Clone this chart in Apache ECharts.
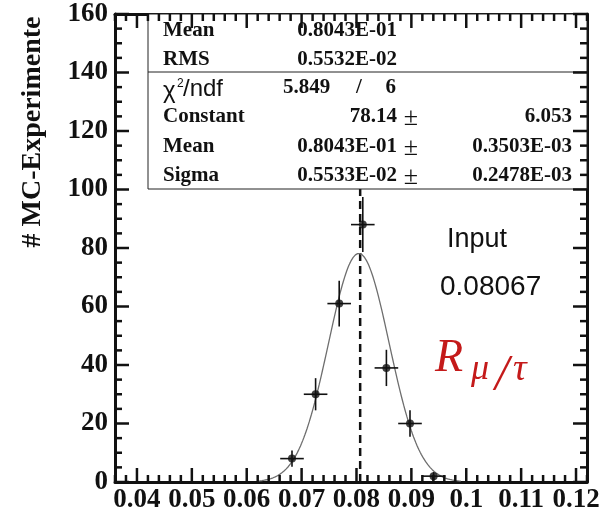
<!DOCTYPE html>
<html>
<head>
<meta charset="utf-8">
<script src="https://cdn.jsdelivr.net/npm/echarts@6/dist/echarts.min.js"></script>
<style>
  html, body { margin: 0; padding: 0; background: #fff; }
  #chart { width: 607px; height: 514px; }
</style>
</head>
<body>
<div id="chart"></div>
<script>
// Histogram of fitted R(mu/tau) values over the MC pseudo-experiments
const binCenters = [0.06825, 0.07255, 0.07685, 0.08115, 0.08545, 0.08975, 0.09405];
const counts     = [8, 30, 61, 88, 39, 20, 2];
const countErrs  = [2.8, 5.5, 7.8, 9.4, 6.2, 4.5, 1.4];
const binHalfWidth = 0.00215;

// Gaussian fit result (also printed in the statistics box)
const fitConstant = 78.14;
const fitMean = 0.08043;
const fitSigma = 0.005533;
const fitFrom = 0.062, fitTo = 0.099;

// Generated input value
const inputValue = 0.08067;

// Axis ranges and tick labels
const xMin = 0.036, xMax = 0.122;
const xTickLabels = ['0.04', '0.05', '0.06', '0.07', '0.08', '0.09', '0.1', '0.11', '0.12'];
const yMin = 0, yMax = 160, yStep = 20;

// Statistics box text
const statRows = [
  ['Mean', '0.8043E-01'],
  ['RMS', '0.5532E-02']
];
const chi2 = '5.849', ndf = '6';
const fitRows = [
  ['Constant', '78.14', '6.053'],
  ['Mean', '0.8043E-01', '0.3503E-03'],
  ['Sigma', '0.5533E-02', '0.2478E-03']
];

// Frame tick positions (ROOT style: ticks inside on all four sides)
// each entry: [x, y, length, side] with side 0 = horizontal axes, 1 = vertical axes
const xMajor = xTickLabels.map(Number);
const frameTicks = [];
for (let i = 0; i <= 43; i++) {
  const v = +(xMin + i * 0.002).toFixed(3);
  const major = xMajor.some(m => Math.abs(m - v) < 1e-6);
  frameTicks.push([v, yMin, major ? 14 : 7, 0]);
}
for (let v = yMin; v <= yMax; v += 5) frameTicks.push([xMin, v, v % yStep === 0 ? 14 : 7, 1]);

const fitCurve = [];
for (let x = fitFrom; x <= fitTo + 1e-9; x += 0.0002) {
  const z = (x - fitMean) / fitSigma;
  fitCurve.push([x, fitConstant * Math.exp(-0.5 * z * z)]);
}

const SERIF = '"Liberation Serif", "DejaVu Serif", serif';
const SANS = '"Liberation Sans", Arial, sans-serif';
const INK = '#111';

function xAxisCfg(position, withLabels) {
  return {
    type: 'value', position: position, min: xMin, max: xMax,
    axisLine: { show: true, onZero: false, lineStyle: { color: INK, width: 3 } },
    axisTick: { show: false },
    axisLabel: withLabels ? {
      show: true, customValues: xMajor, margin: 5,
      fontFamily: 'Liberation Serif', fontWeight: 'bold', fontSize: 27, color: INK
    } : { show: false },
    splitLine: { show: false }
  };
}

function yAxisCfg(position, withLabels) {
  return {
    type: 'value', position: position, min: yMin, max: yMax, interval: yStep,
    axisLine: { show: true, lineStyle: { color: INK, width: 3 } },
    axisTick: { show: false },
    axisLabel: withLabels ? {
      show: true, margin: 7, fontFamily: 'Liberation Serif', fontWeight: 'bold', fontSize: 27, color: INK
    } : { show: false },
    splitLine: { show: false }
  };
}

// Statistics box layout
const boxL = 148, boxT = 14, boxR = 587, boxB = 189, sepY = 72;
const colLabel = 163, colValR = 397, colPm = 411, colErrR = 572;
const statFont = 'bold 21px ' + SERIF;
const gfx = [];
gfx.push({ type: 'rect', z: 5, shape: { x: boxL, y: boxT, width: boxR - boxL, height: boxB - boxT },
           style: { fill: '#fff', stroke: '#222', lineWidth: 1 } });
gfx.push({ type: 'line', z: 6, shape: { x1: boxL, y1: sepY, x2: boxR, y2: sepY },
           style: { stroke: '#222', lineWidth: 1 } });
function txt(s, x, y, align, font, color) {
  gfx.push({ type: 'text', z: 6, style: { text: s, x: x, y: y, textAlign: align,
             textVerticalAlign: 'middle', font: font, fill: color || INK } });
}
const statY = [31, 60];
statRows.forEach((r, i) => {
  txt(r[0], colLabel, statY[i], 'left', statFont);
  txt(r[1], colValR, statY[i], 'right', statFont);
});
txt('\u03c7', 163, 91, 'left', '24px ' + SANS);
txt('2', 177, 84, 'left', '12px ' + SANS);
txt('/ndf', 183, 89, 'left', '24px ' + SANS);
txt(chi2, 283, 88, 'left', statFont);
txt('/', 359, 88, 'center', statFont);
txt(ndf, 396, 88, 'right', statFont);
const fitY = [117, 147, 176];
fitRows.forEach((r, i) => {
  txt(r[0], colLabel, fitY[i], 'left', statFont);
  txt(r[1], colValR, fitY[i], 'right', statFont);
  txt('\u00b1', colPm, fitY[i] + 1, 'center', '26px ' + SERIF);
  txt(r[2], colErrR, fitY[i], 'right', statFont);
});

// Input annotation and variable name
txt('Input', 447, 240, 'left', '27px ' + SANS);
txt(String(inputValue), 440, 287, 'left', '28px ' + SANS);
const RED = '#c41a1a';
txt('R', 435, 359, 'left', 'italic 46px ' + SERIF, RED);
txt('\u03bc', 471, 370, 'left', 'italic 36px ' + SERIF, RED);
txt('/', 502, 376, 'center', 'italic 50px ' + SERIF, RED);
txt('\u03c4', 513, 370, 'left', 'italic 38px ' + SERIF, RED);

// Y axis title
gfx.push({ type: 'text', z: 6, x: 33, y: 132, rotation: Math.PI / 2,
           style: { text: '# MC-Experimente', x: 0, y: 0, textAlign: 'center',
                    textVerticalAlign: 'middle', font: 'bold 28px ' + SERIF, fill: INK } });

const chart = echarts.init(document.getElementById('chart'));
chart.setOption({
  animation: false,
  grid: { left: 115, right: 20, top: 14, bottom: 28, containLabel: false },
  xAxis: [xAxisCfg('bottom', true), xAxisCfg('top', false)],
  yAxis: [yAxisCfg('left', true), yAxisCfg('right', false)],
  series: [
    {
      name: 'input', type: 'line', xAxisIndex: 0, yAxisIndex: 0, z: 2,
      data: [[inputValue, yMin], [inputValue, yMax]], symbol: 'none',
      lineStyle: { color: INK, width: 2.5, type: [8, 5] }
    },
    {
      name: 'fit', type: 'line', xAxisIndex: 0, yAxisIndex: 0, z: 3,
      data: fitCurve, symbol: 'none', smooth: false,
      lineStyle: { color: '#6e6e6e', width: 1.3 }
    },
    {
      name: 'errors', type: 'custom', xAxisIndex: 0, yAxisIndex: 0, z: 4,
      data: binCenters.map((x, i) => [x, counts[i], countErrs[i]]),
      renderItem: function (params, api) {
        const x = api.value(0), y = api.value(1), e = api.value(2);
        const l = api.coord([x - binHalfWidth, y]);
        const r = api.coord([x + binHalfWidth, y]);
        const t = api.coord([x, y + e]);
        const b = api.coord([x, y - e]);
        return { type: 'group', children: [
          { type: 'line', shape: { x1: l[0], y1: l[1], x2: r[0], y2: r[1] }, style: { stroke: INK, lineWidth: 1.6 } },
          { type: 'line', shape: { x1: t[0], y1: t[1], x2: b[0], y2: b[1] }, style: { stroke: INK, lineWidth: 1.6 } }
        ] };
      }
    },
    {
      name: 'counts', type: 'scatter', xAxisIndex: 0, yAxisIndex: 0, z: 5,
      data: binCenters.map((x, i) => [x, counts[i]]),
      symbol: 'circle', symbolSize: 8, itemStyle: { color: INK }
    },
    {
      // inward ticks on all four frame edges, placed through the axis scales
      name: 'frame', type: 'custom', xAxisIndex: 0, yAxisIndex: 0, z: 6,
      data: frameTicks,
      renderItem: function (params, api) {
        const v0 = api.value(0), v1 = api.value(1), len = api.value(2), side = api.value(3);
        let a, b;
        if (side === 0) {
          a = api.coord([v0, yMin]);
          b = api.coord([v0, yMax]);
          return { type: 'group', children: [
            { type: 'line', shape: { x1: a[0], y1: a[1], x2: a[0], y2: a[1] - len }, style: { stroke: INK, lineWidth: 2.5 } },
            { type: 'line', shape: { x1: b[0], y1: b[1], x2: b[0], y2: b[1] + len }, style: { stroke: INK, lineWidth: 2.5 } }
          ] };
        }
        a = api.coord([xMin, v1]);
        b = api.coord([xMax, v1]);
        return { type: 'group', children: [
          { type: 'line', shape: { x1: a[0], y1: a[1], x2: a[0] + len, y2: a[1] }, style: { stroke: INK, lineWidth: 2.5 } },
          { type: 'line', shape: { x1: b[0], y1: b[1], x2: b[0] - len, y2: b[1] }, style: { stroke: INK, lineWidth: 2.5 } }
        ] };
      }
    }
  ],
  graphic: { elements: gfx }
});
</script>
</body>
</html>
